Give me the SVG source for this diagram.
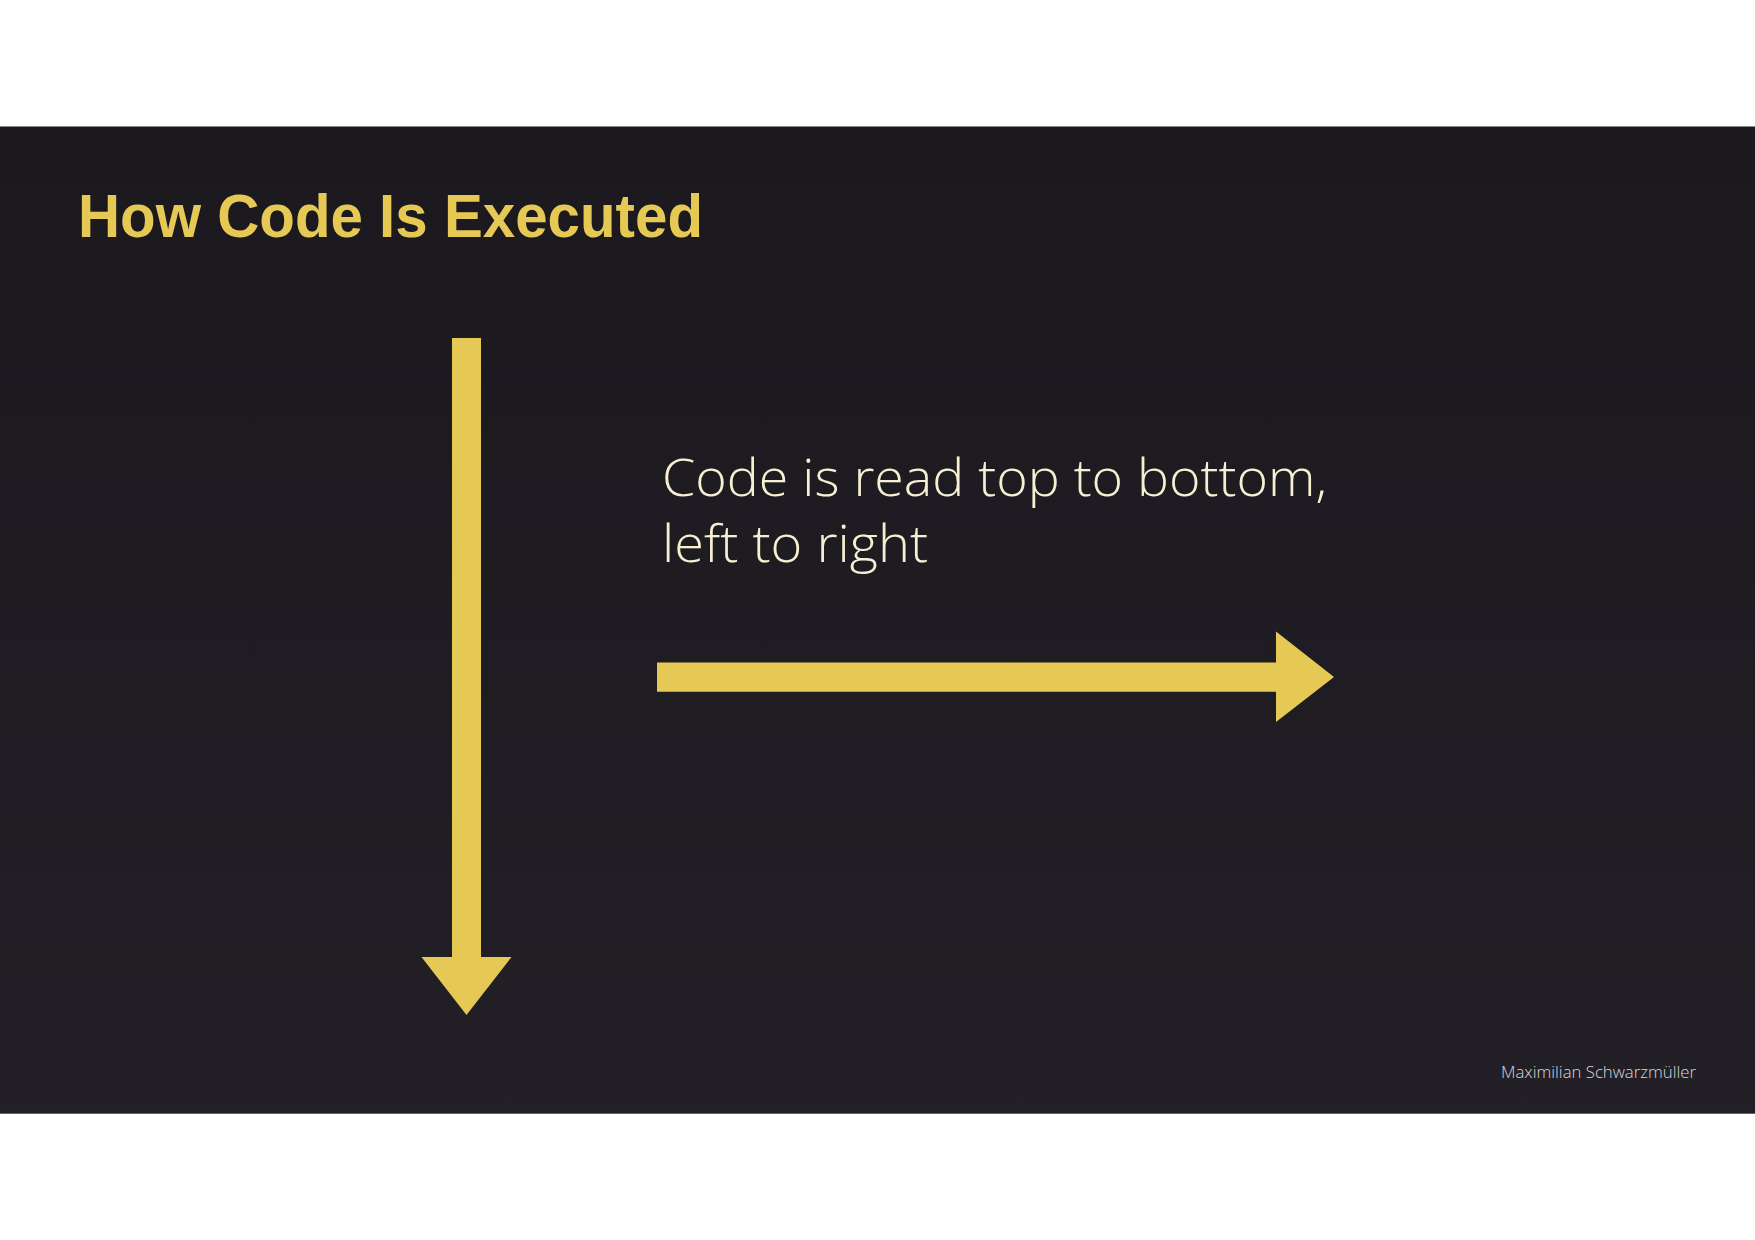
<svg xmlns="http://www.w3.org/2000/svg" width="1755" height="1240" viewBox="0 0 1755 1240">
  <defs>
    <linearGradient id="bg" x1="0" y1="0" x2="0" y2="1">
      <stop offset="0" stop-color="#1b191e"/>
      <stop offset="1" stop-color="#222026"/>
    </linearGradient>
  </defs>
  <style>
    .title { font-family: "Liberation Sans", Arial, sans-serif; font-weight: bold; font-size: 61px; fill: #e6c955; }
    .body { font-family: "Open Sans", "Lato", sans-serif; font-weight: 300; font-size: 52px; fill: #f6efd2; }
    .foot { font-family: "Open Sans", "Lato", sans-serif; font-weight: 300; font-size: 16px; fill: #d9d7da; }
    .arrow { fill: #e6c955; }
  </style>
  <rect x="0" y="0" width="1755" height="1240" fill="#ffffff"/>
  <rect x="0" y="126.5" width="1755" height="987.2" fill="url(#bg)"/>
  <line x1="0" y1="126.5" x2="1755" y2="126.5" stroke="#8a898c" stroke-width="1"/>

  <g id="title">
    <text class="title" x="78" y="237" textLength="625" lengthAdjust="spacingAndGlyphs">How Code Is Executed</text>
  </g>

  <g id="statement">
    <text class="body" x="662" y="495.5" textLength="665" lengthAdjust="spacingAndGlyphs">Code is read top to bottom,</text>
    <text class="body" x="662" y="561.5" textLength="266" lengthAdjust="spacingAndGlyphs">left to right</text>
  </g>

  <g id="connectors">
    <polygon id="arrow-down" class="arrow" points="452,338 481,338 481,957 511.5,957 466.5,1015 421.5,957 452,957"/>
    <polygon id="arrow-right" class="arrow" points="657,662.5 1276,662.5 1276,631.5 1334,677 1276,722 1276,691.7 657,691.7"/>
  </g>

  <g id="footer">
    <text class="foot" x="1501" y="1078" textLength="195" lengthAdjust="spacingAndGlyphs">Maximilian Schwarzmüller</text>
  </g>
</svg>
